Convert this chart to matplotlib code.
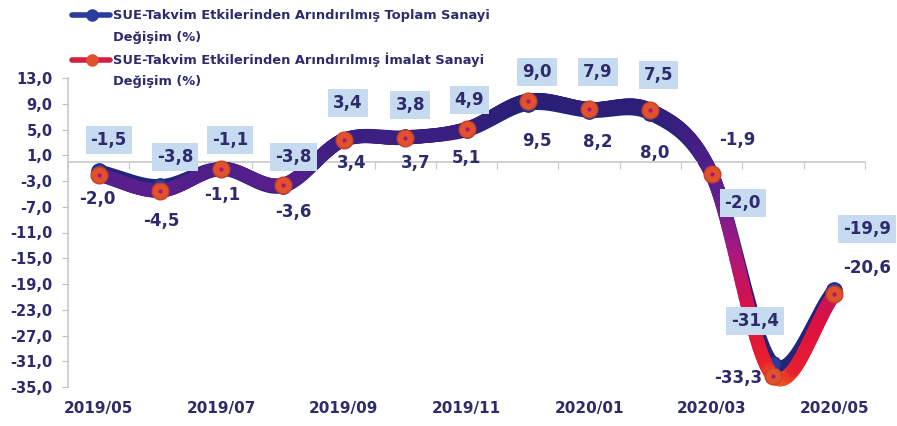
import matplotlib
matplotlib.use('Agg')
import matplotlib.pyplot as plt
import numpy as np
from matplotlib.collections import LineCollection
from matplotlib.colors import LinearSegmentedColormap
from matplotlib.lines import Line2D
from matplotlib.ticker import FuncFormatter

plt.rcParams['font.family'] = ['DejaVu Sans']

# data
months = ['2019/05', '2019/06', '2019/07', '2019/08', '2019/09', '2019/10', '2019/11',
          '2019/12', '2020/01', '2020/02', '2020/03', '2020/04', '2020/05']
toplam = [-1.5, -3.8, -1.1, -3.8, 3.4, 3.8, 4.9, 9.0, 7.9, 7.5, -2.0, -31.4, -19.9]
imalat = [-2.0, -4.5, -1.1, -3.6, 3.4, 3.7, 5.1, 9.5, 8.2, 8.0, -1.9, -33.3, -20.6]
lbl_toplam = ['SUE-Takvim Etkilerinden Arındırılmış Toplam Sanayi', 'Değişim (%)']
lbl_imalat = ['SUE-Takvim Etkilerinden Arındırılmış İmalat Sanayi', 'Değişim (%)']

# label offsets in pixels (x right, y up)
off_toplam = [(10, 31), (15, 29), (9, 29), (11, 29), (4, 37), (5, 32), (3, 30),
              (9, 32), (9, 39), (8, 38), (31, -28), (-18, 43), (33, 61)]
off_imalat = [(-1, -24), (1, -30), (1, -26), (11, -27), (8, -23), (10, -25), (0, -29),
              (9, -40), (9, -33), (4, -43), (26, 34), (-35, -2), (33, 26)]

navy = '#2d2b6b'
W, H = 897, 426


def smooth(xs, ys, n=40):
    # catmull-rom through the points (like excel smoothed lines)
    P = np.column_stack([xs, ys]).astype(float)
    P = np.vstack([2 * P[0] - P[1], P, 2 * P[-1] - P[-2]])
    out = []
    for i in range(1, len(P) - 2):
        p0, p1, p2, p3 = P[i - 1], P[i], P[i + 1], P[i + 2]
        t = np.linspace(0, 1, n, endpoint=False)[:, None]
        c = 0.5 * ((2 * p1) + (-p0 + p2) * t + (2 * p0 - 5 * p1 + 4 * p2 - p3) * t ** 2
                   + (-p0 + 3 * p1 - 3 * p2 + p3) * t ** 3)
        out.append(c)
    out.append(P[-2][None, :])
    return np.vstack(out)


x = np.arange(len(months))

fig = plt.figure(figsize=(W / 100, H / 100), dpi=100)
ax = fig.add_axes([68 / W, 1 - 387 / H, (865 - 68) / W, (387 - 78) / H])

# total line (under)
st = smooth(x, toplam)
ax.plot(st[:, 0], st[:, 1], color='#23237a', lw=10, solid_capstyle='round', zorder=2)
ax.plot(x, toplam, 'o', ms=11, color='#2a3c9c', mec='#1f2a80', zorder=3)

# manufacturing line with vertical gradient
cmap = LinearSegmentedColormap.from_list('g', [
    (0.0, '#f07a1c'), (0.06, '#e8202e'), (0.22, '#de1040'), (0.42, '#a81880'),
    (0.62, '#5e1f8e'), (0.8, '#3d1f82'), (1.0, '#1e1f70')])
si = smooth(x, imalat)
segs = np.stack([si[:-1], si[1:]], axis=1)
mid = 0.5 * (si[:-1, 1] + si[1:, 1])
lc = LineCollection(segs, colors=cmap((mid + 35) / 48), linewidths=10, capstyle='round', zorder=4)
ax.add_collection(lc)
ax.plot(x, imalat, 'o', ms=12, color='#e0522c', mec='#c8402a', mew=1, zorder=5)
ax.plot(x, imalat, 'o', ms=3, color='#b0127a', mew=0, zorder=6)

# data labels
for i in range(len(months)):
    ax.annotate(f'{toplam[i]:.1f}'.replace('.', ','), (x[i], toplam[i]),
                xytext=off_toplam[i], textcoords='offset pixels', ha='center', va='center',
                fontsize=12, fontweight='bold', color=navy, zorder=7,
                bbox=dict(boxstyle='square,pad=0.3', fc='#c6dbf0', ec='none'))
    ax.annotate(f'{imalat[i]:.1f}'.replace('.', ','), (x[i], imalat[i]),
                xytext=off_imalat[i], textcoords='offset pixels', ha='center', va='center',
                fontsize=12, fontweight='bold', color=navy, zorder=7)

ax.set_xlim(-0.5, len(months) - 0.5)
ax.set_ylim(-35, 13)
ax.set_yticks(np.arange(-35, 14, 4))
ax.yaxis.set_major_formatter(FuncFormatter(lambda v, p: f'{v:.1f}'.replace('.', ',')))
ax.tick_params(axis='y', colors='#bfbfbf', labelcolor=navy, labelsize=10.5, length=4, pad=7)
for t in ax.get_yticklabels():
    t.set_fontweight('bold')

ax.spines['top'].set_visible(False)
ax.spines['right'].set_visible(False)
ax.spines['left'].set_color('#c8c8c8')
ax.spines['left'].set_linewidth(1.2)
ax.spines['bottom'].set_position(('data', 0))
ax.spines['bottom'].set_color('#c8c8c8')
ax.spines['bottom'].set_linewidth(1.2)
ax.set_xticks(np.arange(-0.5, len(months), 1))
ax.set_xticklabels([])
ax.tick_params(axis='x', colors='#c8c8c8', length=5, direction='out')

for i in range(0, len(months), 2):
    ax.text(x[i], -0.068, months[i], transform=ax.get_xaxis_transform(), ha='center',
            va='center', fontsize=11, fontweight='bold', color=navy)

# legend drawn by hand so the symbol sits on the first text line
legend_items = [(lbl_toplam, '#2a3c9c', '#2a3c9c', 15), (lbl_imalat, '#d42040', '#e0522c', 60)]
for lines, lcol, mcol, yp in legend_items:
    yf = 1 - yp / H
    fig.add_artist(Line2D([72 / W, 110 / W], [yf, yf], color=lcol, lw=4,
                          solid_capstyle='round', transform=fig.transFigure))
    fig.add_artist(Line2D([92 / W], [yf], marker='o', ms=8, mfc=mcol, mec=mcol,
                          transform=fig.transFigure))
    for k, s in enumerate(lines):
        fig.text(113 / W, 1 - (yp + 22 * k) / H, s, ha='left', va='center',
                 fontsize=9.4, fontweight='bold', color=navy)

fig.savefig('out.png', dpi=100)
